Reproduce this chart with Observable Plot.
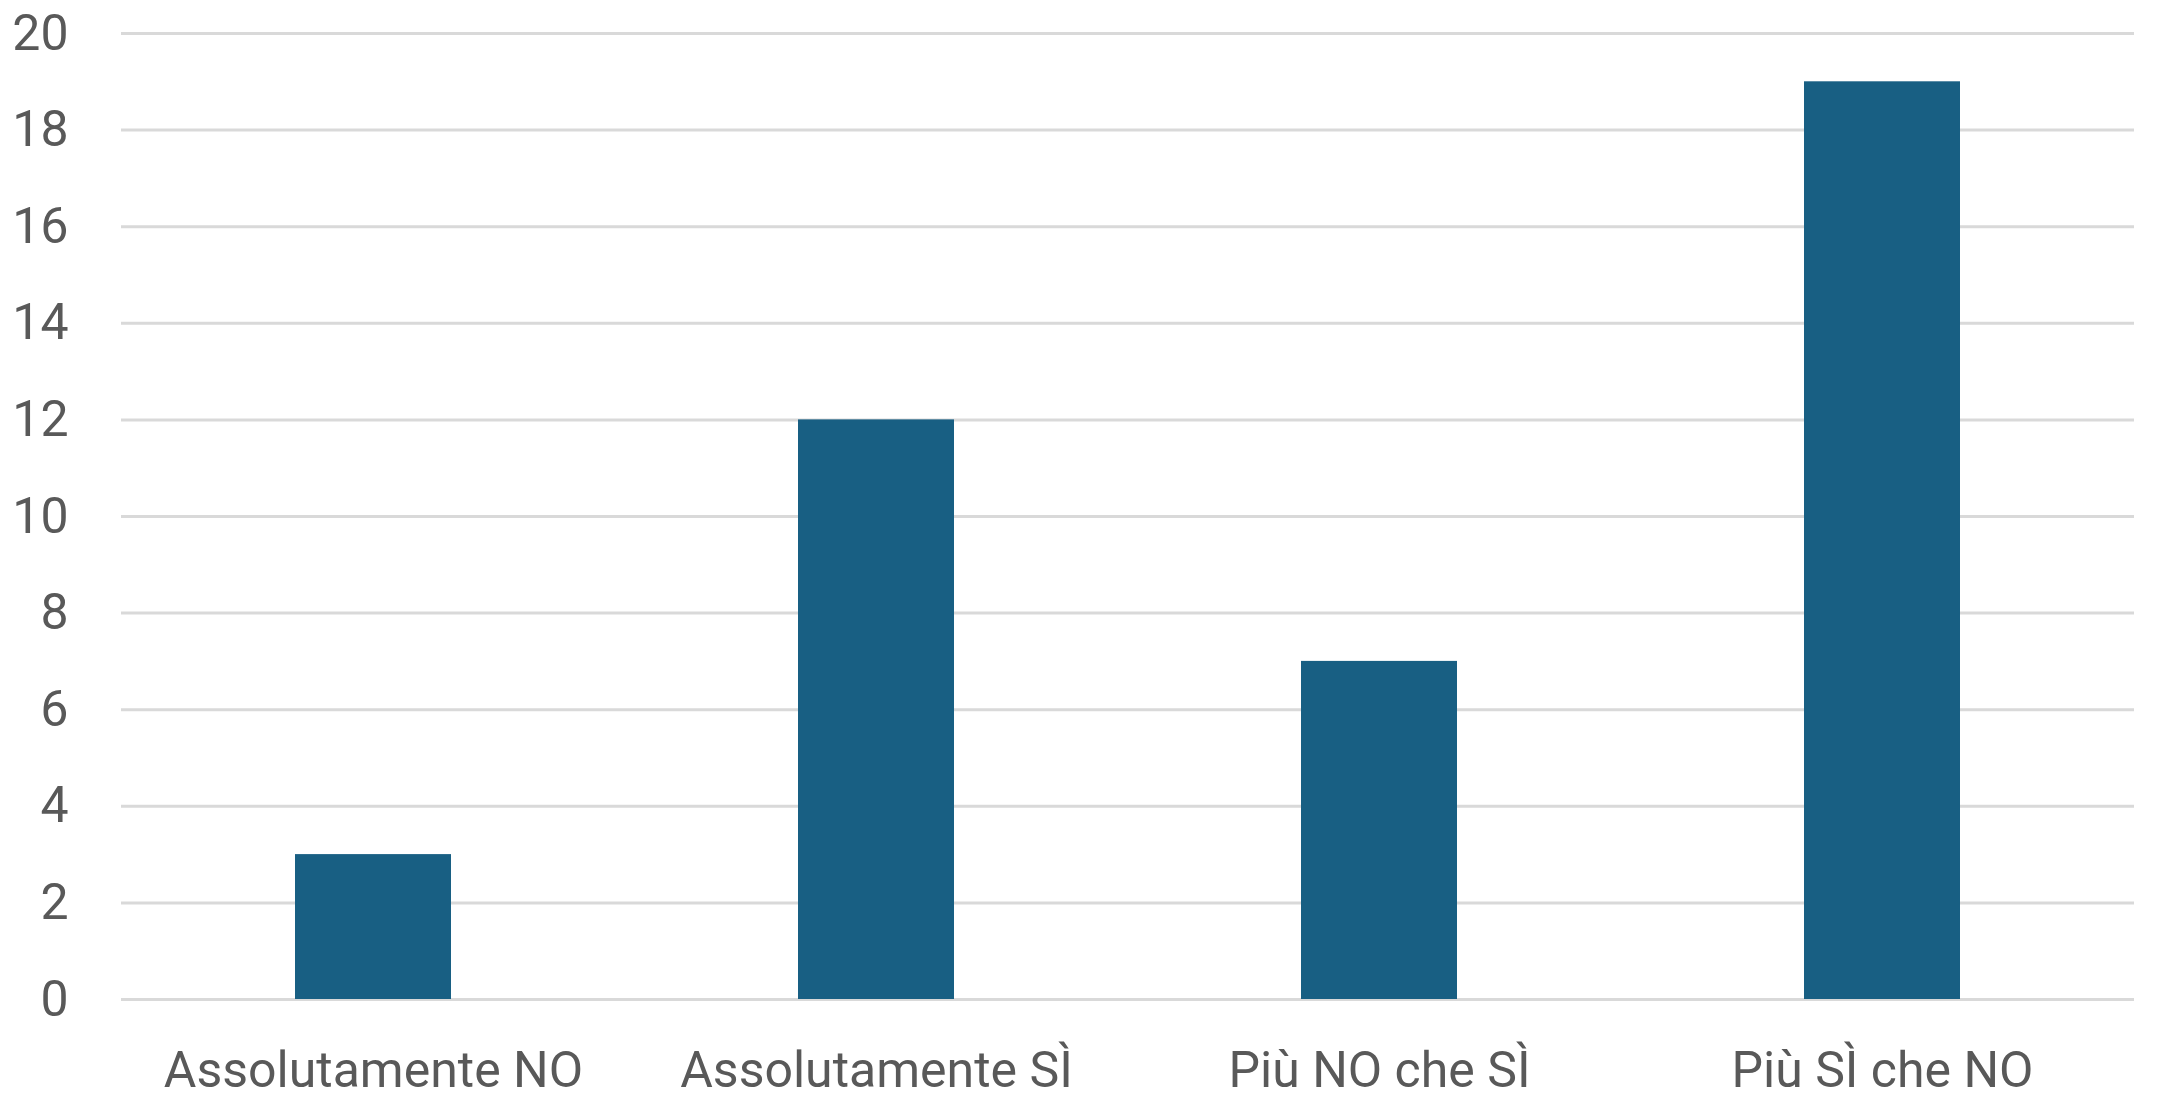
<!DOCTYPE html>
<html>
<head>
<meta charset="utf-8">
<script src="https://cdn.jsdelivr.net/npm/d3@7"></script>
<script src="https://cdn.jsdelivr.net/npm/@observablehq/plot@0.6"></script>
<style>
  html, body { margin: 0; padding: 0; background: #ffffff; }
  #chart svg { display: block; }
</style>
</head>
<body>
<div id="chart"></div>
<script>
const categories = ["Assolutamente NO", "Assolutamente SÌ", "Più NO che SÌ", "Più SÌ che NO"];
const values = [3, 12, 7, 19];
const yTicks = [0, 2, 4, 6, 8, 10, 12, 14, 16, 18, 20];

const data = categories.map((c, i) => ({category: c, value: values[i]}));

const chart = Plot.plot({
  width: 2157,
  height: 1103,
  marginLeft: 121,
  marginRight: 23,
  marginTop: 33,
  marginBottom: 104,
  style: {fontFamily: "Roboto, sans-serif", fontSize: "50px", color: "#595959", background: "#ffffff"},
  x: {domain: categories, paddingInner: 0.69, paddingOuter: 0.345, label: null},
  y: {domain: [0, 20], ticks: yTicks, label: null},
  marks: [
    Plot.ruleY(yTicks, {stroke: "#d9d9d9", strokeWidth: 3}),
    Plot.barY(data, {x: "category", y: "value", fill: "#185f83"}),
    Plot.axisY({ticks: yTicks, tickSize: 0, tickPadding: 53, fontSize: 50, fill: "#595959", label: null}),
    Plot.axisX({tickSize: 0, tickPadding: 52, fontSize: 50, fill: "#595959", label: null})
  ]
});
document.getElementById("chart").appendChild(chart);
</script>
</body>
</html>
